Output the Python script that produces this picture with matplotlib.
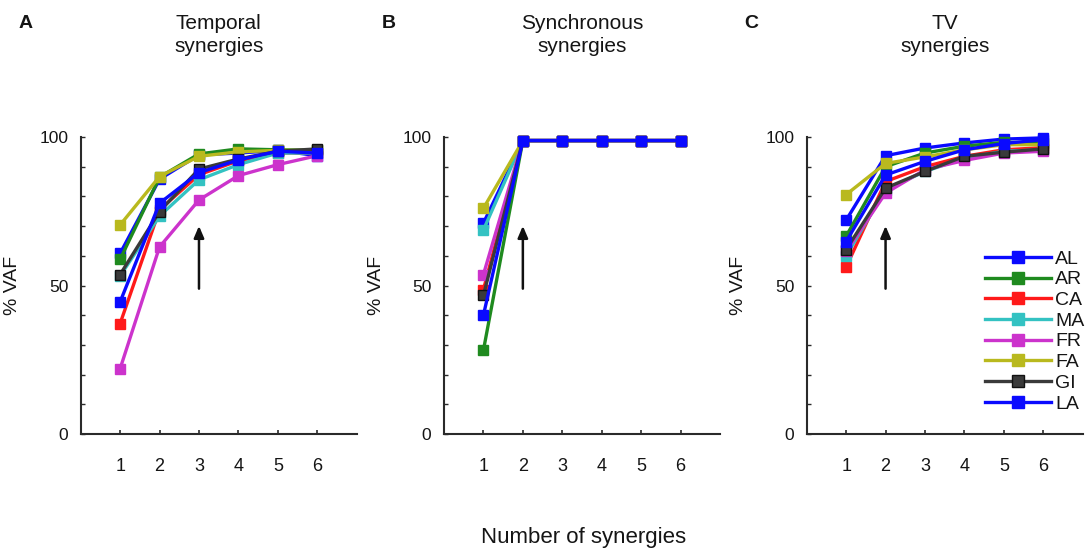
import matplotlib.pyplot as plt
from matplotlib.ticker import MultipleLocator

plt.rcParams['font.family'] = ['Liberation Sans', 'DejaVu Sans']

n_syn = [1, 2, 3, 4, 5, 6]
subjects = ['AL', 'AR', 'CA', 'MA', 'FR', 'FA', 'GI', 'LA']
colors = ['#0a0aff', '#1f8a1f', '#ff1a1a', '#33c2c2', '#cc33cc', '#b9b91e', '#3a3a3a', '#0a0aff']

# % VAF per subject, for 1..6 synergies
vaf_temporal = {
    'AL': [60.8, 85.8, 94.0, 94.6, 95.5, 93.7],
    'AR': [58.8, 86.5, 94.3, 96.0, 95.7, 95.5],
    'CA': [37.2, 75.5, 87.3, 92.0, 94.6, 94.6],
    'MA': [53.2, 73.4, 85.6, 90.7, 94.6, 94.6],
    'FR': [22.0, 63.0, 78.8, 87.0, 90.7, 93.7],
    'FA': [70.4, 86.7, 93.5, 95.0, 95.5, 95.5],
    'GI': [53.7, 74.9, 89.2, 92.6, 95.2, 96.0],
    'LA': [44.5, 77.7, 88.0, 92.3, 95.2, 94.6],
}
vaf_synchronous = {
    'AL': [71.0, 98.8, 98.8, 98.8, 98.8, 98.8],
    'AR': [28.2, 98.8, 98.8, 98.8, 98.8, 98.8],
    'CA': [48.6, 98.8, 98.8, 98.8, 98.8, 98.8],
    'MA': [68.7, 98.8, 98.8, 98.8, 98.8, 98.8],
    'FR': [53.7, 98.8, 98.8, 98.8, 98.8, 98.8],
    'FA': [76.0, 98.8, 98.8, 98.8, 98.8, 98.8],
    'GI': [46.7, 98.8, 98.8, 98.8, 98.8, 98.8],
    'LA': [40.0, 98.8, 98.8, 98.8, 98.8, 98.8],
}
vaf_tv = {
    'AL': [72.0, 93.7, 96.3, 98.0, 99.3, 99.7],
    'AR': [66.6, 90.0, 94.6, 96.9, 98.2, 98.0],
    'CA': [56.2, 85.0, 90.0, 93.5, 95.7, 96.4],
    'MA': [60.0, 82.3, 88.4, 92.9, 95.2, 95.7],
    'FR': [61.5, 81.1, 89.0, 92.1, 94.6, 95.2],
    'FA': [80.6, 91.1, 93.3, 95.7, 97.4, 97.4],
    'GI': [62.1, 82.8, 88.4, 93.5, 94.9, 96.0],
    'LA': [64.8, 87.2, 91.8, 95.7, 97.8, 99.1],
}

panels = [
    ('A', 'Temporal\nsynergies', vaf_temporal, 3),
    ('B', 'Synchronous\nsynergies', vaf_synchronous, 2),
    ('C', 'TV\nsynergies', vaf_tv, 2),
]

W, H = 1092, 558
fig = plt.figure(figsize=(W / 100, H / 100), dpi=100)
lefts = [80.7, 444, 806.7]
ax_w, ax_h, ax_b = 276, 297, 124
txt = '#151515'

for (letter, title, data, arrow_x), left in zip(panels, lefts):
    ax = fig.add_axes([left / W, ax_b / H, ax_w / W, ax_h / H])
    for name, c in zip(subjects, colors):
        mec = '#111111' if name == 'GI' else c
        ax.plot(n_syn, data[name], color=c, lw=2.4, marker='s', ms=6.5,
                mfc=c, mec=mec, clip_on=False, label=name)
    ax.annotate('', xy=(arrow_x, 71), xytext=(arrow_x, 48),
                arrowprops=dict(arrowstyle='-|>,head_width=0.3,head_length=0.7',
                                color='#111111', lw=1.8))
    ax.set_xlim(0, 7)
    ax.set_ylim(0, 100)
    ax.set_xticks(n_syn)
    ax.set_yticks([0, 50, 100])
    ax.yaxis.set_minor_locator(MultipleLocator(10))
    for s in ['top', 'right']:
        ax.spines[s].set_visible(False)
    for s in ['left', 'bottom']:
        ax.spines[s].set_linewidth(1.5)
        ax.spines[s].set_color('#2a2a2a')
    ax.tick_params(axis='x', direction='in', length=3, width=1.2, pad=17,
                   labelsize=13, colors='#2a2a2a', labelcolor=txt)
    ax.tick_params(axis='y', which='both', direction='in', length=3, width=1.0,
                   pad=9, labelsize=12.5, colors='#2a2a2a', labelcolor=txt)
    ax.set_ylabel('% VAF', fontsize=14, color=txt)
    ax.yaxis.set_label_coords(-0.215, 0.5)
    cx = (left + ax_w / 2) / W
    fig.text(cx, 1 - 35 / H, title, ha='center', va='center', fontsize=15,
             linespacing=1.25, color=txt)
    fig.text((left - 55) / W, 1 - 23 / H, letter, ha='center', va='center',
             fontsize=14, fontweight='bold', color=txt)

leg = ax.legend(loc='upper left', bbox_to_anchor=(985 / W, 1 - 250 / H),
                bbox_transform=fig.transFigure, frameon=False, fontsize=14,
                handlelength=3.4, handletextpad=0.2, labelspacing=0.16,
                borderpad=0, borderaxespad=0, markerscale=1.35)
for t in leg.get_texts():
    t.set_color(txt)

fig.text(584 / W, 1 - 537 / H, 'Number of synergies', ha='center', va='center',
         fontsize=16, color=txt)

fig.savefig('out.png', dpi=100)
